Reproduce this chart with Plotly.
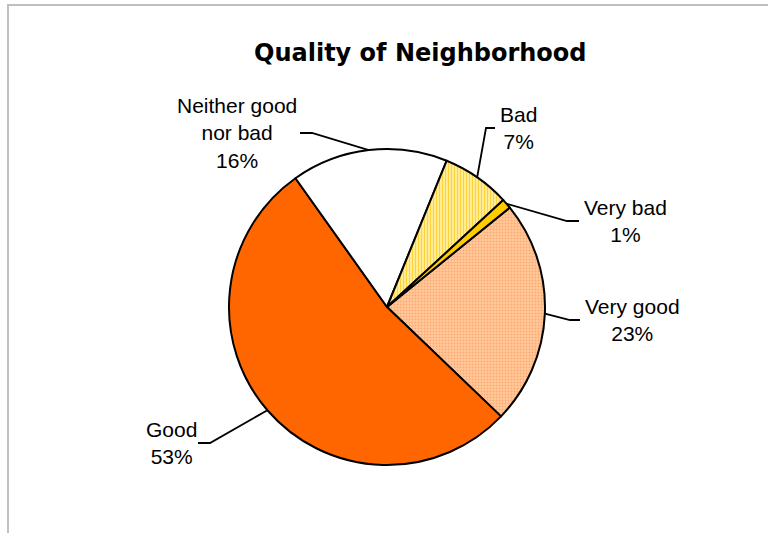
import math
import plotly.graph_objects as go

W, H = 768, 533

# Survey answers and their shares (percent)
categories = ["Very good", "Good", "Neither good nor bad", "Bad", "Very bad"]
display_names = ["Very good", "Good", "Neither good<br>nor bad", "Bad", "Very bad"]
shares = [23, 53, 16, 7, 1]

# Slice fills: base colour, pattern shape and pattern colour
base_colors = ["#FFCC99", "#FF6600", "#FFFFFF", "#FFF2A6", "#FFCC00"]
pattern_shapes = [".", "", "", "|", ""]
pattern_colors = ["#FFA877", "#FF6600", "#FFFFFF", "#FFD23C", "#FFCC00"]

# Pie placement in pixels
CX, CY, R = 387, 307, 158
START_ANGLE = 51  # degrees clockwise from 12 o'clock

# Label layout (pixels): elbow of the leader, end of the leader, text centre
label_layout = {
    "Very good": ((570, 320), (580, 320), (632, 320)),
    "Good": ((210, 443), (198, 443), (171, 443)),
    "Neither good nor bad": ((312, 133), (300, 133), (237, 133)),
    "Bad": ((486, 128), (495, 128), (518, 128)),
    "Very bad": ((567, 221), (579, 221), (625, 221)),
}


def px(x):
    return x / W


def py(y):
    return 1 - y / H


fig = go.Figure()
fig.add_trace(go.Pie(
    labels=categories,
    values=shares,
    sort=False,
    direction="clockwise",
    rotation=START_ANGLE,
    textinfo="none",
    hoverinfo="label+percent",
    showlegend=False,
    domain=dict(x=[px(CX - R), px(CX + R)], y=[py(CY + R), py(CY - R)]),
    marker=dict(
        colors=base_colors,
        line=dict(color="#000000", width=2),
        pattern=dict(shape=pattern_shapes, fgcolor=pattern_colors, bgcolor=base_colors,
                     fillmode="replace",
                     size=[3, 8, 8, 3, 8], solidity=[0.4, 0.3, 0.3, 0.45, 0.3]),
    ),
))

shapes = []
annotations = []
total = sum(shares)
cum = 0
for name, disp, v in zip(categories, display_names, shares):
    mid = math.radians(START_ANGLE + 360 * (cum + v / 2) / total)
    cum += v
    sx = CX + R * math.sin(mid)
    sy = CY - R * math.cos(mid)
    (ex, ey), (tx, ty), (lx, ly) = label_layout[name]
    shapes.append(dict(
        type="path", xref="paper", yref="paper",
        path=f"M {px(sx)} {py(sy)} L {px(ex)} {py(ey)} L {px(tx)} {py(ty)}",
        line=dict(color="#000000", width=1.8),
    ))
    annotations.append(dict(
        x=px(lx), y=py(ly), xref="paper", yref="paper",
        text=f"{disp}<br>{v}%", showarrow=False,
        xanchor="center", yanchor="middle", align="center",
        font=dict(family="Liberation Sans, Arial, sans-serif", size=21, color="#000000"),
    ))

# Title
annotations.append(dict(
    x=px(420), y=py(53), xref="paper", yref="paper",
    text="<b>Quality of Neighborhood</b>", showarrow=False,
    xanchor="center", yanchor="middle",
    font=dict(family="DejaVu Sans, sans-serif", size=24, color="#000000"),
))

# Chart-area frame (top and left edges)
frame = dict(color="#C0C0C0", width=2)
shapes.append(dict(type="line", xref="paper", yref="paper",
                   x0=px(7), y0=py(5), x1=px(W + 2), y1=py(5), line=frame))
shapes.append(dict(type="line", xref="paper", yref="paper",
                   x0=px(8), y0=py(4), x1=px(8), y1=py(H + 2), line=frame))

fig.update_layout(
    width=W, height=H,
    margin=dict(l=0, r=0, t=0, b=0),
    paper_bgcolor="#FFFFFF",
    plot_bgcolor="#FFFFFF",
    shapes=shapes,
    annotations=annotations,
)

fig.write_html("out.html")
